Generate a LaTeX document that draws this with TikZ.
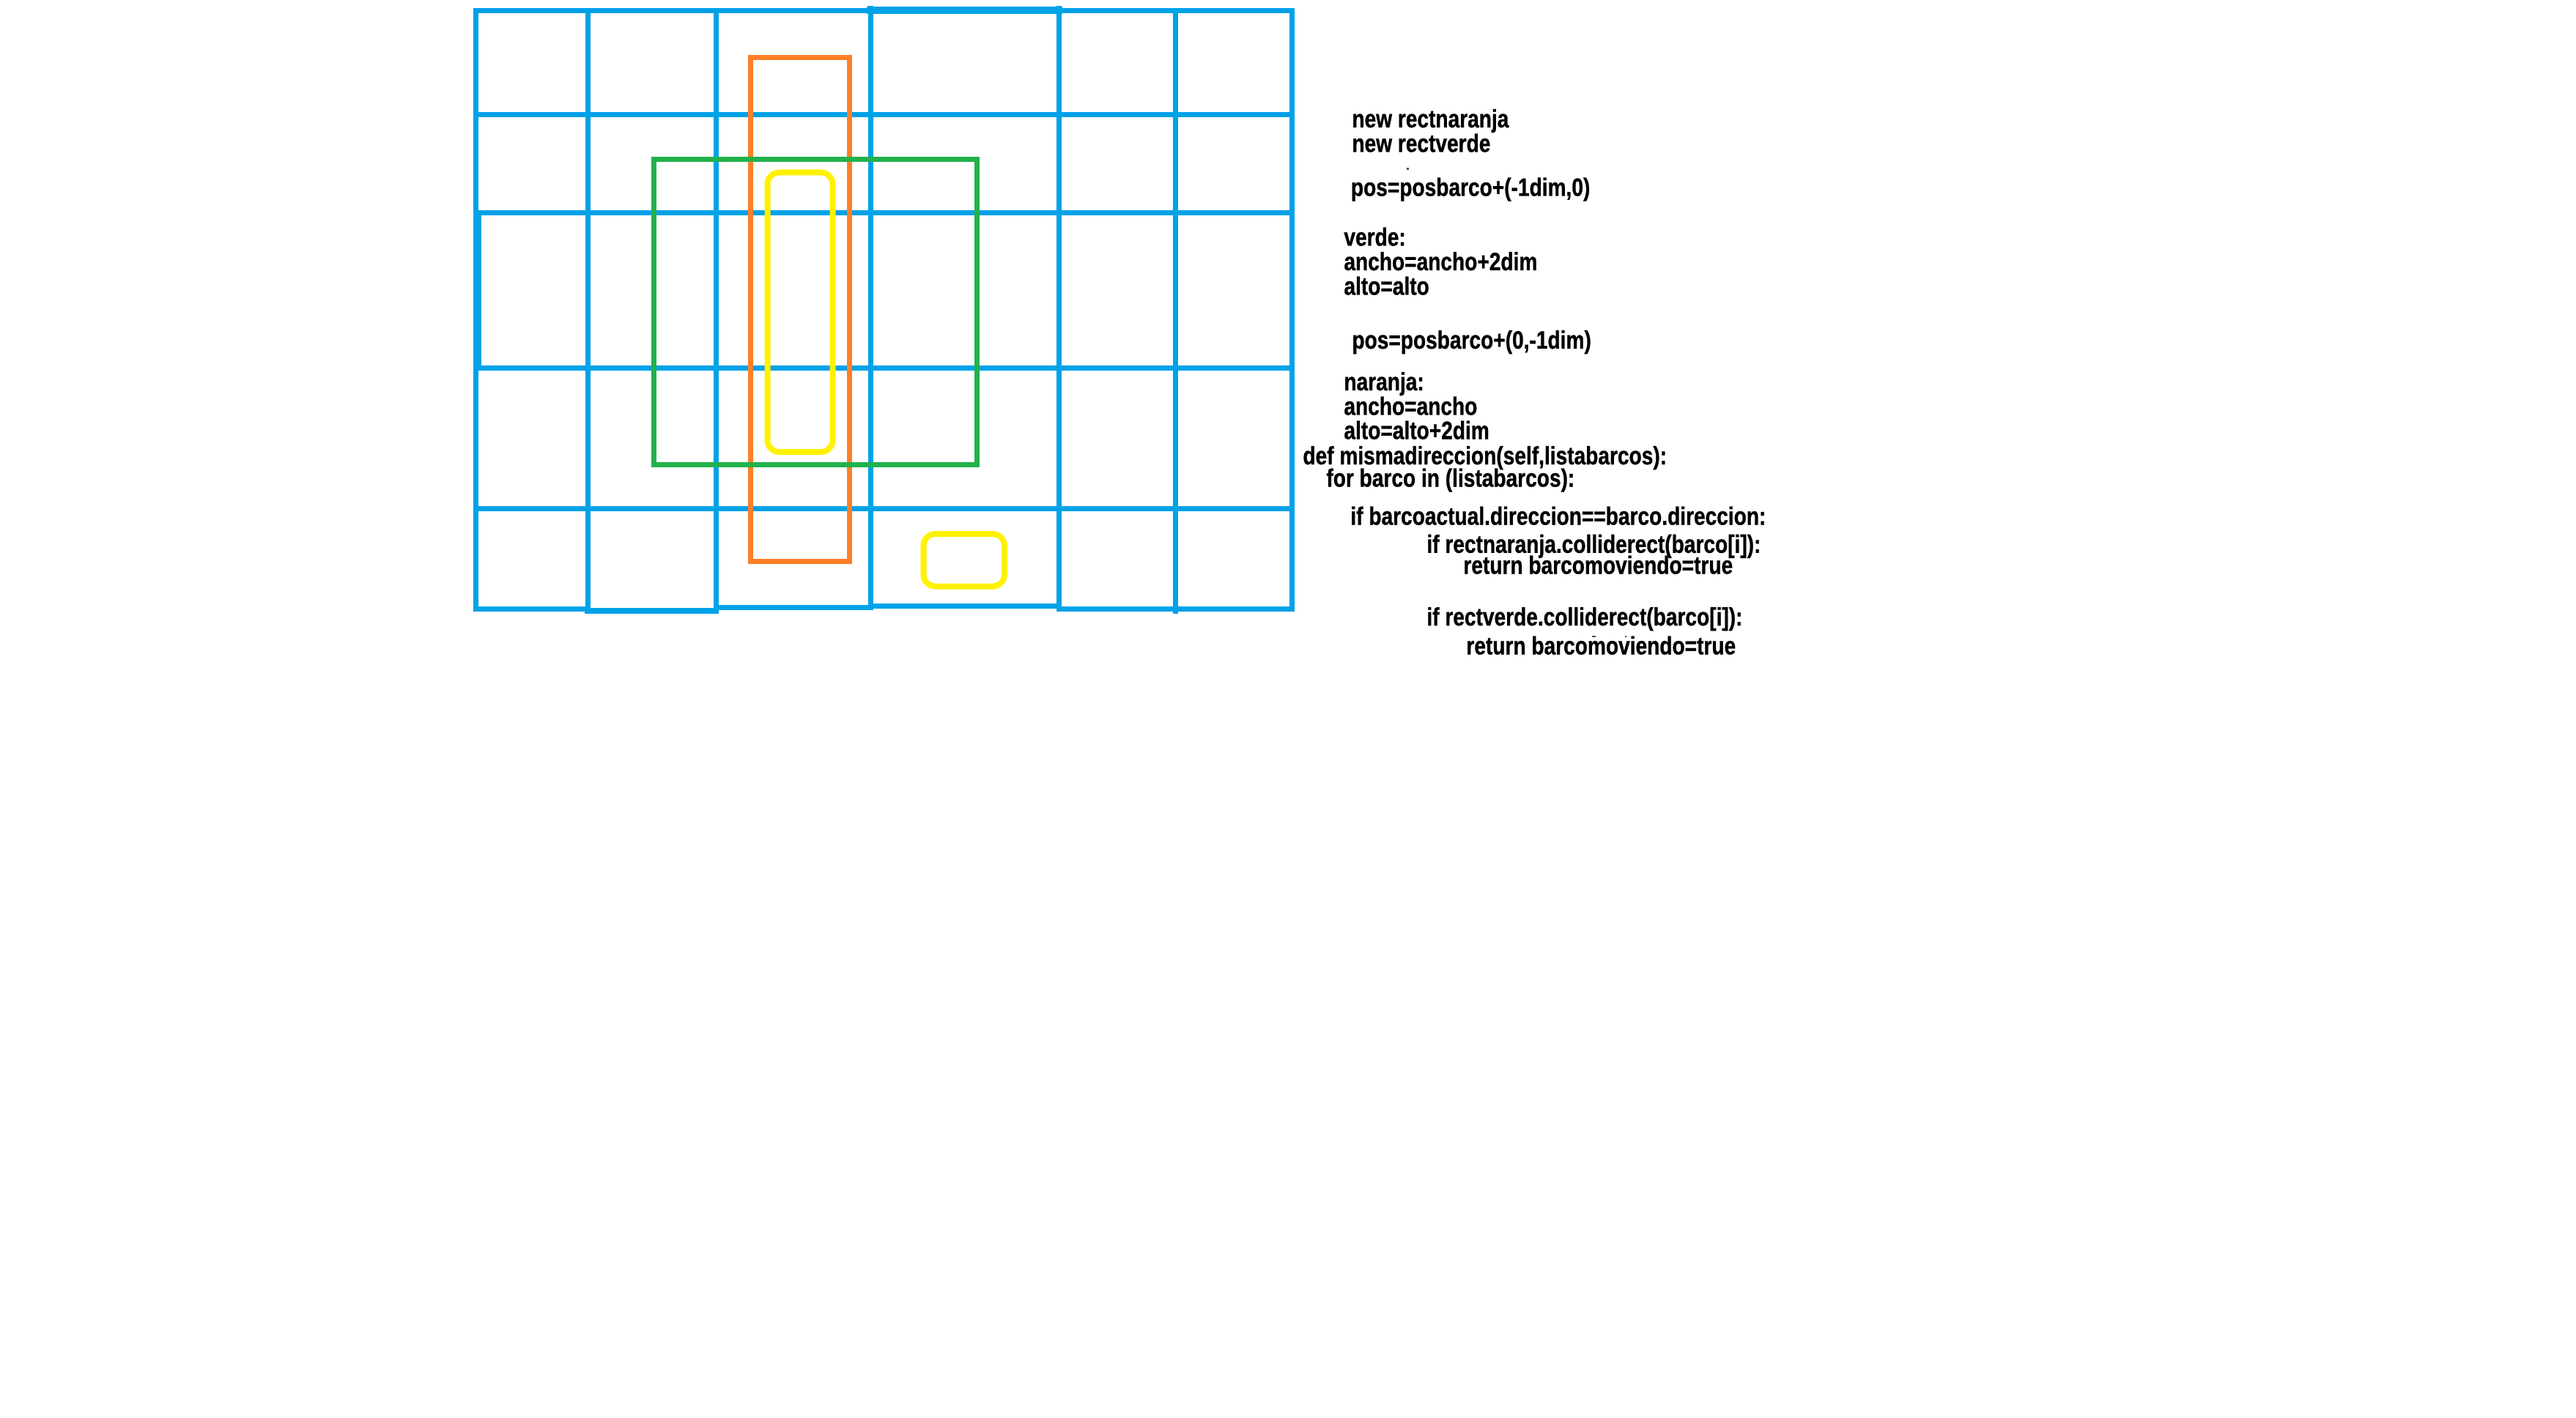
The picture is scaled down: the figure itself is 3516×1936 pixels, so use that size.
\documentclass[tikz,border=0pt]{standalone}
\usepackage{fontspec}
\newfontfamily\codefont[FakeStretch=0.817,FakeBold=0.8]{Liberation Sans Bold}
\definecolor{gridblue}{RGB}{0,162,232}
\definecolor{rectorange}{RGB}{255,127,39}
\definecolor{rectgreen}{RGB}{34,177,76}
\definecolor{rectyellow}{RGB}{255,242,0}
\tikzset{
  gridline/.style={draw=gridblue, line width=3.5pt, line cap=rect},
  orangebox/.style={draw=rectorange, line width=3.5pt, line join=miter},
  greenbox/.style={draw=rectgreen, line width=3.5pt, line join=miter},
  yellowbox/.style={draw=rectyellow, line width=4pt, rounded corners=8pt},
  codeline/.style={anchor=base west, inner sep=0pt, text=black,
    font=\codefont\fontsize{17.2pt}{20pt}\selectfont},
  speck/.style={fill=black!70}
}
\begin{document}
\begin{tikzpicture}[x=0.5pt,y=-0.5pt]
\useasboundingbox (0,0) rectangle (3516,1936);
\fill[white] (0,0) rectangle (3516,1936);

% grid: vertical lines
\draw[gridline] (649,15) -- (649,831);
\draw[gridline] (802,15) -- (802,834);
\draw[gridline] (977,15) -- (977,831);
\draw[gridline] (1188,12) -- (1188,828);
\draw[gridline] (1445,12) -- (1445,828);
\draw[gridline] (1604,15) -- (1604,834);
\draw[gridline] (1763,15) -- (1763,831);
\draw[gridline] (653,291) -- (653,503);
% grid: horizontal lines
\draw[gridline] (649,15) -- (1188,15);
\draw[gridline, line width=5pt] (1188,14) -- (1445,14);
\draw[gridline] (1445,15) -- (1763,15);
\draw[gridline] (649,157) -- (1763,157);
\draw[gridline] (649,291) -- (1763,291);
\draw[gridline] (649,503) -- (1763,503);
\draw[gridline] (649,694) -- (1763,694);
\draw[gridline] (649,831) -- (802,831);
\draw[gridline, line width=4pt] (802,833.5) -- (977,833.5);
\draw[gridline] (977,829) -- (1188,829);
\draw[gridline] (1188,827) -- (1445,827);
\draw[gridline] (1445,831) -- (1604,831);
\draw[gridline] (1604,831) -- (1763,831);

% coloured rectangles
\draw[orangebox] (1024,78.5) rectangle (1159,766.5);
\draw[greenbox] (892.5,218) rectangle (1333,634);
\draw[yellowbox] (1047.5,235.5) rectangle (1136.5,617);
\draw[yellowbox] (1260.5,729) rectangle (1371,800.5);

% code text
\node[codeline] (t1) at (1845,174) {new rectnaranja};
\node[codeline] (t2) at (1845,207.5) {new rectverde};
\node[codeline] (t3) at (1843.5,267.5) {pos=posbarco+(-1dim,0)};
\node[codeline] (t4) at (1834,335.5) {verde:};
\node[codeline] (t5) at (1834,369) {ancho=ancho+2dim};
\node[codeline] (t6) at (1834,402.5) {alto=alto};
\node[codeline] (t7) at (1845,476) {pos=posbarco+(0,-1dim)};
\node[codeline] (t8) at (1834,533) {naranja:};
\node[codeline] (t9) at (1834,566.5) {ancho=ancho};
\node[codeline] (t10) at (1834,599.5) {alto=alto+2dim};
\node[codeline] (t11) at (1778,634) {def mismadireccion(self,listabarcos):};
\node[codeline] (t12) at (1810,664.5) {for barco in (listabarcos):};
\node[codeline] (t13) at (1843,716.5) {if barcoactual.direccion==barco.direccion:};
\node[codeline] (t14) at (1947,754.8) {if rectnaranja.colliderect(barco[i]):};
\node[codeline] (t15) at (1997,783.5) {return barcomoviendo=true};
\node[codeline] (t16) at (1947,854) {if rectverde.colliderect(barco[i]):};
\node[codeline] (t17) at (2001,893.5) {return barcomoviendo=true};

% tiny specks
\fill[speck] (1920,229) rectangle (1923,232);
\fill[speck] (2173,868) rectangle (2178,870);
\fill[speck] (2218,868) rectangle (2220,870);
\end{tikzpicture}
\end{document}
